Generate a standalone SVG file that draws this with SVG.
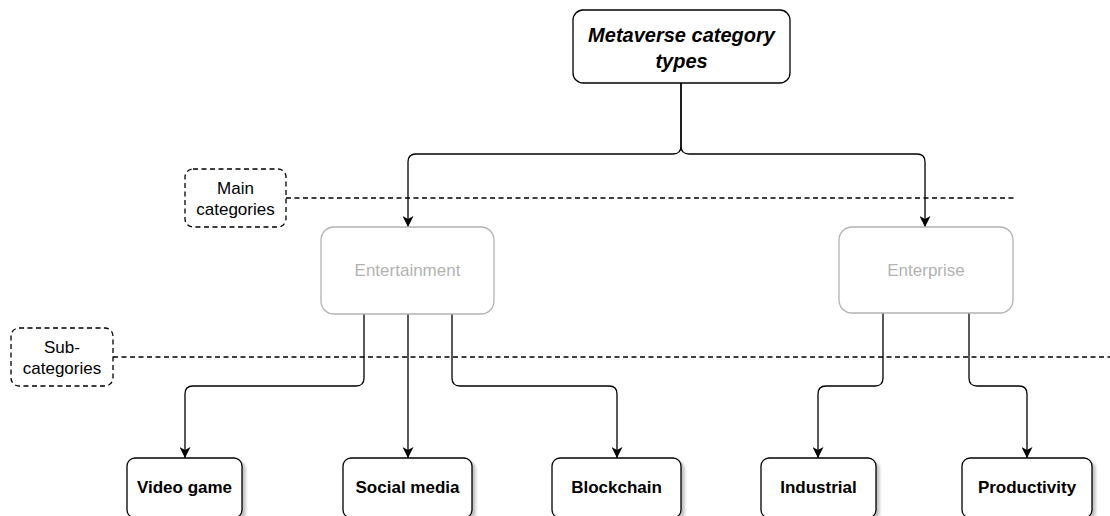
<svg xmlns="http://www.w3.org/2000/svg" width="1110" height="516" viewBox="0 0 1110 516">
  <style>
    .txt { font-family: "Liberation Sans", Arial, sans-serif; text-anchor: middle; dominant-baseline: central; }
    .box { fill: #ffffff; stroke: #000000; stroke-width: 1.3; }
    .gray { fill: #ffffff; stroke: #b3b3b3; stroke-width: 1.3; }
    .note { fill: #ffffff; stroke: #000000; stroke-width: 1.3; stroke-dasharray: 5 3.5; }
    .edge { fill: none; stroke: #000000; stroke-width: 1.3; }
    .sep { fill: none; stroke: #000000; stroke-width: 1.3; stroke-dasharray: 5 3.5; }
  </style>
  <defs>
    <marker id="arrow" viewBox="0 0 11 11" refX="11" refY="5.5" markerWidth="11" markerHeight="11" markerUnits="userSpaceOnUse" orient="auto">
      <path d="M0,0 L11,5.5 L0,11 L3,5.5 Z" fill="#000000"/>
    </marker>
    <filter id="shadow" x="-20%" y="-20%" width="150%" height="150%">
      <feGaussianBlur in="SourceAlpha" stdDeviation="1.5"/>
      <feOffset dx="3" dy="3" result="b"/>
      <feComponentTransfer><feFuncA type="linear" slope="0.25"/></feComponentTransfer>
      <feMerge><feMergeNode/><feMergeNode in="SourceGraphic"/></feMerge>
    </filter>
  </defs>

  <!-- separator lines -->
  <g id="separators">
    <line class="sep" x1="286" y1="198" x2="1015" y2="198"/>
    <line class="sep" x1="113" y1="357" x2="1110" y2="357"/>
  </g>

  <!-- connectors -->
  <g id="connectors">
    <path class="edge" d="M681,83 V146 Q681,154 673,154 H416 Q408,154 408,162 V227" marker-end="url(#arrow)"/>
    <path class="edge" d="M681,83 V146 Q681,154 689,154 H917 Q925,154 925,162 V227" marker-end="url(#arrow)"/>
    <path class="edge" d="M364,314 V378 Q364,386 356,386 H193 Q185,386 185,394 V458" marker-end="url(#arrow)"/>
    <path class="edge" d="M408,314 V458" marker-end="url(#arrow)"/>
    <path class="edge" d="M452,314 V378 Q452,386 460,386 H609 Q617,386 617,394 V458" marker-end="url(#arrow)"/>
    <path class="edge" d="M883,313 V378 Q883,386 875,386 H826 Q818,386 818,394 V458" marker-end="url(#arrow)"/>
    <path class="edge" d="M969,313 V378 Q969,386 977,386 H1019 Q1027,386 1027,394 V458" marker-end="url(#arrow)"/>
  </g>

  <!-- root -->
  <g id="root">
    <rect class="box" x="573" y="10" width="217" height="73" rx="10"/>
    <text class="txt" x="681.5" y="35" font-size="20" font-weight="bold" font-style="italic">Metaverse category</text>
    <text class="txt" x="681.5" y="61" font-size="20" font-weight="bold" font-style="italic">types</text>
  </g>

  <!-- level labels -->
  <g id="label-main">
    <rect class="note" x="185" y="169" width="101" height="58" rx="8"/>
    <text class="txt" x="235.5" y="188" font-size="17">Main</text>
    <text class="txt" x="235.5" y="209" font-size="17">categories</text>
  </g>
  <g id="label-sub">
    <rect class="note" x="11" y="328" width="102" height="58" rx="8"/>
    <text class="txt" x="62" y="347" font-size="17">Sub-</text>
    <text class="txt" x="62" y="368" font-size="17">categories</text>
  </g>

  <!-- main categories -->
  <g id="entertainment">
    <rect class="gray" x="321" y="227" width="173" height="87" rx="13"/>
    <text class="txt" x="407.5" y="270.5" font-size="17" fill="#b3b3b3">Entertainment</text>
  </g>
  <g id="enterprise">
    <rect class="gray" x="839" y="227" width="174" height="86" rx="13"/>
    <text class="txt" x="926" y="270" font-size="17" fill="#b3b3b3">Enterprise</text>
  </g>

  <!-- sub-categories -->
  <g id="video-game">
    <rect class="box" x="127" y="458" width="115" height="60" rx="8" filter="url(#shadow)"/>
    <text class="txt" x="184.5" y="487" font-size="17" font-weight="bold">Video game</text>
  </g>
  <g id="social-media">
    <rect class="box" x="343" y="458" width="129" height="60" rx="8" filter="url(#shadow)"/>
    <text class="txt" x="407.5" y="487" font-size="17" font-weight="bold">Social media</text>
  </g>
  <g id="blockchain">
    <rect class="box" x="552" y="458" width="129" height="60" rx="8" filter="url(#shadow)"/>
    <text class="txt" x="616.5" y="487" font-size="17" font-weight="bold">Blockchain</text>
  </g>
  <g id="industrial">
    <rect class="box" x="761" y="458" width="115" height="60" rx="8" filter="url(#shadow)"/>
    <text class="txt" x="818.5" y="487" font-size="17" font-weight="bold">Industrial</text>
  </g>
  <g id="productivity">
    <rect class="box" x="962" y="458" width="130" height="60" rx="8" filter="url(#shadow)"/>
    <text class="txt" x="1027" y="487" font-size="17" font-weight="bold">Productivity</text>
  </g>
</svg>
